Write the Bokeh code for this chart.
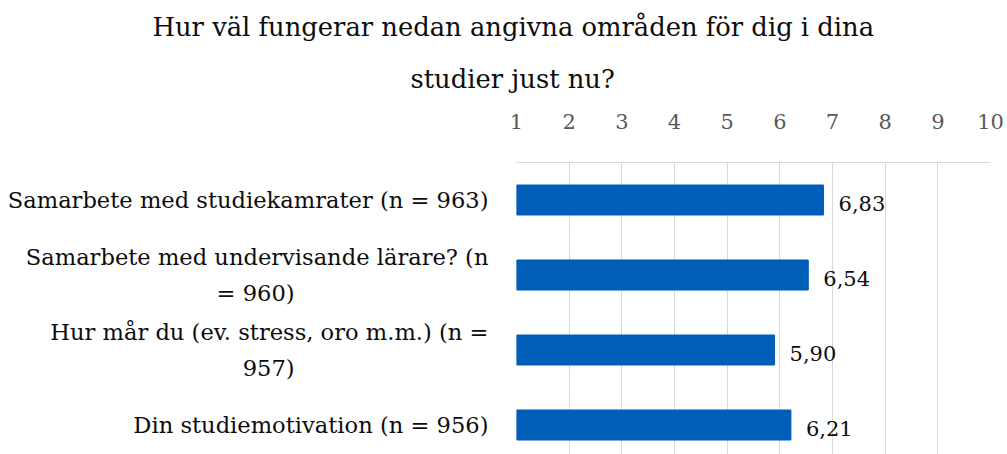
from bokeh.plotting import figure
from bokeh.models import Range1d, FixedTicker, LabelSet, ColumnDataSource, Title
from bokeh.core.properties import value
from bokeh.embed import file_html
from bokeh.resources import INLINE

# ---- data ----
title_lines = ["Hur väl fungerar nedan angivna områden för dig i dina", "studier just nu?"]
categories = [
    "Samarbete med studiekamrater (n = 963)",
    "Samarbete med undervisande lärare? (n\n= 960)",
    "Hur mår du (ev. stress, oro m.m.) (n =\n957)",
    "Din studiemotivation (n = 956)",
]
values = [6.83, 6.54, 5.90, 6.21]
tick_values = [1, 2, 3, 4, 5, 6, 7, 8, 9, 10]

# ---- layout constants ----
FONT = "DejaVu Serif"
W, H = 1007, 454
BORDER_LEFT, BORDER_TOP = 516, 162
FRAME_W = 474
PX_PER_CAT = 75.0
WRAP_PAD = 27            # no-break spaces that centre a wrapped line under the first one
TITLE_LEFT = [152, 410]  # left edge (px) of each title line
TITLE_STANDOFF = [6, 34]
frame_h = H - BORDER_TOP
y_top = len(categories) - 0.5
y_bottom = y_top - frame_h / PX_PER_CAT

ypos = [len(categories) - 1 - i for i in range(len(categories))]
labels = [f"{v:.2f}".replace(".", ",") for v in values]
src = ColumnDataSource(dict(y=ypos, value=values, label=labels))

p = figure(width=W, height=H, x_range=Range1d(tick_values[0], tick_values[-1]),
           y_range=Range1d(y_bottom, y_top), output_backend="svg",
           toolbar_location=None, x_axis_location="above", y_axis_location="left",
           min_border_left=BORDER_LEFT, min_border_right=W - BORDER_LEFT - FRAME_W,
           min_border_top=BORDER_TOP, min_border_bottom=0, title=None)
p.outline_line_color = None
p.background_fill_color = "white"
p.border_fill_color = "white"

p.hbar(y="y", left=tick_values[0], right="value", height=0.4, color="#005EB8", source=src)

ax = p.xaxis[0]
ax.ticker = FixedTicker(ticks=tick_values)
ax.axis_line_color = "#d9d9d9"
ax.major_tick_in = 0
ax.major_tick_out = 0
ax.minor_tick_line_color = None
ax.major_tick_line_color = None
ax.major_label_text_font = FONT
ax.major_label_text_font_size = "21px"
ax.major_label_text_color = "#595959"
ax.major_label_standoff = 34


def wrap_label(cat):
    lines = cat.split("\n")
    return "\n".join([lines[0]] + [ln + "\u00a0" * WRAP_PAD for ln in lines[1:]])


yax = p.yaxis[0]
yax.ticker = FixedTicker(ticks=ypos)
yax.major_label_overrides = {y: wrap_label(c) for y, c in zip(ypos, categories)}
yax.axis_line_color = None
yax.major_tick_in = 0
yax.major_tick_out = 0
yax.minor_tick_line_color = None
yax.major_tick_line_color = None
yax.major_label_text_font = FONT
yax.major_label_text_font_size = "22.6px"
yax.major_label_text_color = "#0d0d0d"
yax.major_label_text_line_height = 1.39
yax.major_label_standoff = 28

p.xgrid.ticker = FixedTicker(ticks=tick_values)
p.xgrid.grid_line_color = "#d9d9d9"
p.ygrid.visible = False

p.add_layout(LabelSet(x="value", y="y", text="label", source=src, x_offset=15, y_offset=-3,
                      text_baseline="middle", text_align="left",
                      text_font=value(FONT), text_font_size=value("21px"),
                      text_color="#0d0d0d"))

# title lines, stacked outward from the frame (second line first)
for ln, left, so in reversed(list(zip(title_lines, TITLE_LEFT, TITLE_STANDOFF))):
    p.add_layout(Title(text=ln, align="left", offset=left - BORDER_LEFT, text_font=FONT,
                       text_font_size="25.8px", text_font_style="normal",
                       text_color="#0d0d0d", standoff=so), "above")

open("out.html", "w").write(file_html(p, INLINE))
